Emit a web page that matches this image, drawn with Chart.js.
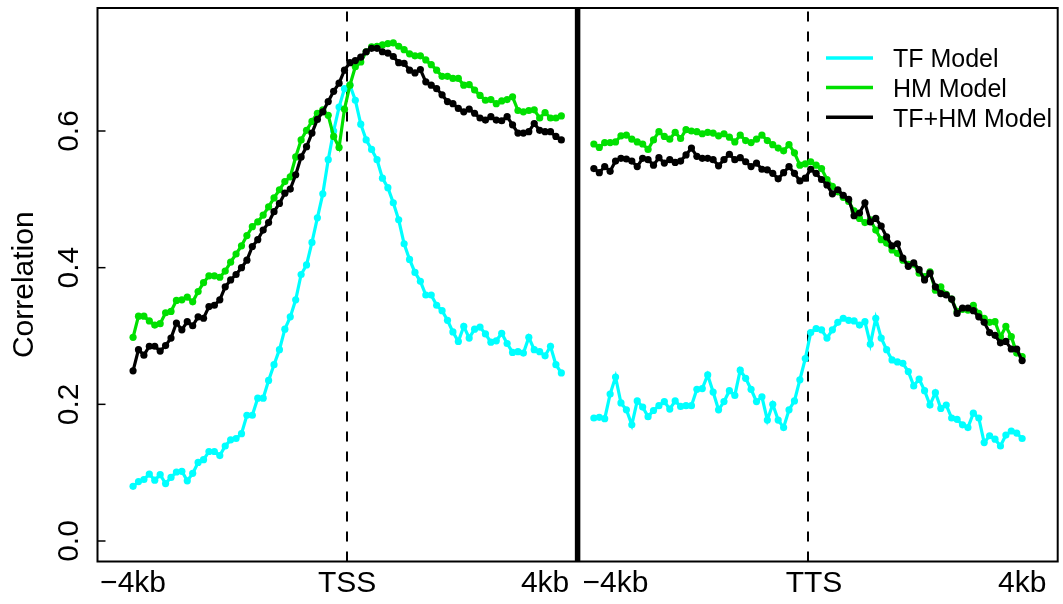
<!DOCTYPE html>
<html><head><meta charset="utf-8">
<script src="https://cdn.jsdelivr.net/npm/chart.js@4"></script>
<style>html,body{margin:0;padding:0;background:#fff;overflow:hidden}canvas{display:block}</style>
</head><body>
<canvas id="c" width="1063" height="604"></canvas>
<script>
// ---- data (80 bins, -4kb .. +4kb) ----
const tssTF = [0.080,0.087,0.090,0.098,0.089,0.097,0.084,0.093,0.101,0.102,
0.088,0.099,0.115,0.119,0.131,0.131,0.125,0.139,0.148,0.150,
0.157,0.184,0.184,0.209,0.209,0.235,0.258,0.280,0.310,0.328,
0.353,0.390,0.404,0.437,0.473,0.508,0.558,0.600,0.635,0.662,
0.667,0.645,0.610,0.587,0.573,0.558,0.531,0.517,0.495,0.470,
0.435,0.412,0.393,0.380,0.360,0.360,0.345,0.337,0.323,0.306,
0.292,0.314,0.297,0.310,0.313,0.303,0.291,0.293,0.304,0.289,
0.276,0.277,0.275,0.298,0.280,0.277,0.271,0.285,0.258,0.246];
const tssHM = [0.298,0.329,0.329,0.322,0.316,0.318,0.334,0.336,0.352,0.353,
0.357,0.350,0.365,0.378,0.388,0.388,0.386,0.395,0.408,0.420,
0.432,0.447,0.460,0.467,0.477,0.489,0.502,0.514,0.526,0.533,
0.562,0.587,0.601,0.614,0.626,0.631,0.623,0.592,0.576,0.632,
0.667,0.694,0.701,0.716,0.723,0.724,0.726,0.728,0.729,0.724,
0.719,0.713,0.710,0.710,0.704,0.697,0.689,0.680,0.680,0.677,
0.677,0.667,0.668,0.660,0.652,0.645,0.646,0.640,0.644,0.646,
0.650,0.630,0.628,0.630,0.631,0.619,0.627,0.619,0.619,0.622];
const tssTFHM = [0.249,0.280,0.272,0.285,0.285,0.278,0.286,0.297,0.319,0.309,
0.321,0.315,0.328,0.326,0.343,0.345,0.353,0.372,0.382,0.390,
0.400,0.411,0.431,0.441,0.455,0.466,0.482,0.494,0.509,0.515,
0.536,0.562,0.577,0.597,0.617,0.628,0.643,0.658,0.670,0.689,
0.700,0.703,0.708,0.716,0.721,0.721,0.716,0.714,0.709,0.700,
0.699,0.689,0.685,0.690,0.672,0.667,0.662,0.653,0.643,0.640,
0.633,0.628,0.632,0.626,0.619,0.616,0.621,0.616,0.615,0.621,
0.609,0.597,0.597,0.599,0.611,0.601,0.599,0.599,0.592,0.587];
const ttsTF = [0.180,0.181,0.179,0.215,0.240,0.202,0.192,0.170,0.205,0.196,
0.182,0.191,0.198,0.204,0.193,0.205,0.197,0.198,0.198,0.222,
0.223,0.243,0.218,0.192,0.204,0.220,0.213,0.250,0.238,0.222,
0.204,0.211,0.177,0.200,0.177,0.166,0.192,0.205,0.236,0.267,
0.305,0.311,0.309,0.297,0.309,0.320,0.326,0.323,0.322,0.316,
0.321,0.288,0.326,0.297,0.280,0.265,0.262,0.260,0.248,0.227,
0.237,0.220,0.199,0.217,0.194,0.199,0.180,0.178,0.170,0.166,
0.187,0.180,0.144,0.154,0.149,0.139,0.155,0.161,0.158,0.150];
const ttsHM = [0.581,0.576,0.583,0.583,0.584,0.593,0.594,0.588,0.584,0.581,
0.573,0.587,0.599,0.592,0.588,0.598,0.589,0.602,0.600,0.599,
0.596,0.598,0.597,0.593,0.596,0.591,0.584,0.594,0.586,0.583,
0.588,0.594,0.586,0.580,0.575,0.571,0.580,0.568,0.550,0.552,
0.555,0.550,0.545,0.529,0.519,0.511,0.503,0.497,0.483,0.472,
0.466,0.470,0.455,0.441,0.436,0.426,0.421,0.411,0.405,0.405,
0.392,0.387,0.394,0.367,0.372,0.361,0.354,0.336,0.339,0.338,
0.345,0.333,0.326,0.320,0.321,0.299,0.314,0.299,0.275,0.270];
const ttsTFHM = [0.545,0.539,0.548,0.541,0.556,0.560,0.559,0.556,0.548,0.560,
0.558,0.550,0.561,0.553,0.558,0.554,0.556,0.565,0.575,0.563,
0.560,0.560,0.558,0.549,0.558,0.566,0.558,0.561,0.555,0.548,
0.553,0.544,0.543,0.538,0.530,0.539,0.548,0.538,0.527,0.531,
0.544,0.538,0.529,0.521,0.508,0.514,0.506,0.500,0.476,0.480,
0.495,0.467,0.472,0.461,0.445,0.432,0.435,0.414,0.402,0.407,
0.397,0.382,0.392,0.372,0.362,0.360,0.354,0.333,0.341,0.341,
0.337,0.328,0.320,0.305,0.301,0.290,0.292,0.281,0.281,0.264];

const seriesNames = ['TF Model','HM Model','TF+HM Model'];
const xTickLabels = ['\u22124kb','TSS','4kb','\u22124kb','TTS','4kb'];
const xTickAt = [0, 39.5, 76, 89, 125.6, 164];
const yTickValues = [0, 0.2, 0.4, 0.6];
const yTickLabels = ['0.0','0.2','0.4','0.6'];
const yTitle = 'Correlation';

// ---- styling ----
const COLORS = ['#00FFFF', '#00E000', '#000000'];
const FONT = '"Liberation Sans", Arimo, Helvetica, Arial, sans-serif';
const TTS_OFFSET = 85;   // x index where the TTS panel starts
const TSS_CENTER = 39.5;

function pts(arr, off){ return arr.map((v,i)=>({x:i+off, y:v})); }
function ds(arr, off, k){
  return {label: seriesNames[k], data: pts(arr, off), borderColor: COLORS[k],
    backgroundColor: COLORS[k], pointBackgroundColor: COLORS[k], pointBorderWidth: 0,
    pointRadius: 3.6, pointHoverRadius: 3.6, borderWidth: 3.2, tension: 0, order: 3-k};
}

const frame = {
  id: 'frame',
  beforeDatasetsDraw(chart){
    const {ctx, chartArea:a, scales:{x}} = chart;
    ctx.save();
    ctx.strokeStyle = '#000';
    ctx.lineWidth = 2;
    ctx.setLineDash([10, 10]);
    [TSS_CENTER, TSS_CENTER + TTS_OFFSET].forEach(v=>{
      const px = Math.round(x.getPixelForValue(v));
      ctx.beginPath(); ctx.moveTo(px, a.bottom); ctx.lineTo(px, a.top); ctx.stroke();
    });
    ctx.setLineDash([]);
    ctx.lineWidth = 5.5;
    const dx = x.getPixelForValue((79 + TTS_OFFSET)/2);
    ctx.beginPath(); ctx.moveTo(dx, a.top); ctx.lineTo(dx, a.bottom); ctx.stroke();
    ctx.restore();
  },
  afterDraw(chart){
    const {ctx, chartArea:a, scales:{x, y}} = chart;
    ctx.save();
    ctx.strokeStyle = '#000';
    ctx.lineWidth = 2;
    ctx.strokeRect(a.left, a.top, a.right - a.left, a.bottom - a.top);
    // y ticks (inward) and rotated labels
    ctx.fillStyle = '#000';
    ctx.font = '30px ' + FONT;
    ctx.lineWidth = 1.5;
    yTickValues.forEach((v, k)=>{
      const py = y.getPixelForValue(v);
      ctx.beginPath(); ctx.moveTo(a.left, py); ctx.lineTo(a.left + 8, py); ctx.stroke();
      ctx.save();
      ctx.translate(78, py);
      ctx.rotate(-Math.PI/2);
      ctx.textAlign = 'center'; ctx.textBaseline = 'alphabetic';
      ctx.fillText(yTickLabels[k], 0, 0);
      ctx.restore();
    });
    // y title
    ctx.save();
    ctx.translate(33, (a.top + a.bottom)/2);
    ctx.rotate(-Math.PI/2);
    ctx.textAlign = 'center'; ctx.textBaseline = 'alphabetic';
    ctx.fillText(yTitle, 0, 0);
    ctx.restore();
    // x labels
    ctx.textAlign = 'center'; ctx.textBaseline = 'alphabetic';
    xTickLabels.forEach((t, k)=>{
      ctx.fillText(t, x.getPixelForValue(xTickAt[k]), 592);
    });
    // legend
    ctx.font = '25px ' + FONT;
    ctx.textAlign = 'left';
    const base = [67.3, 96.8, 126.5];
    seriesNames.forEach((n, k)=>{
      ctx.strokeStyle = COLORS[k];
      ctx.lineWidth = 3.5;
      ctx.beginPath(); ctx.moveTo(826, base[k] - 9.3); ctx.lineTo(873, base[k] - 9.3); ctx.stroke();
      ctx.fillStyle = '#000';
      ctx.fillText(n, 893, base[k]);
    });
    ctx.restore();
  }
};

new Chart(document.getElementById('c'), {
  type: 'line',
  data: { datasets: [
    ds(tssTFHM, 0, 2), ds(tssHM, 0, 1), ds(tssTF, 0, 0),
    ds(ttsTFHM, TTS_OFFSET, 2), ds(ttsHM, TTS_OFFSET, 1), ds(ttsTF, TTS_OFFSET, 0)
  ]},
  options: {
    responsive: false, animation: false, devicePixelRatio: 1,
    layout: { padding: { left: 97.5, right: 5.3, top: 8, bottom: 42.5 } },
    plugins: { legend: { display: false }, tooltip: { enabled: false } },
    scales: {
      x: { type: 'linear', min: -6.56, max: 170.56, display: false },
      y: { type: 'linear', min: -0.03, max: 0.78, display: false }
    }
  },
  plugins: [frame]
});
</script>
</body></html>
